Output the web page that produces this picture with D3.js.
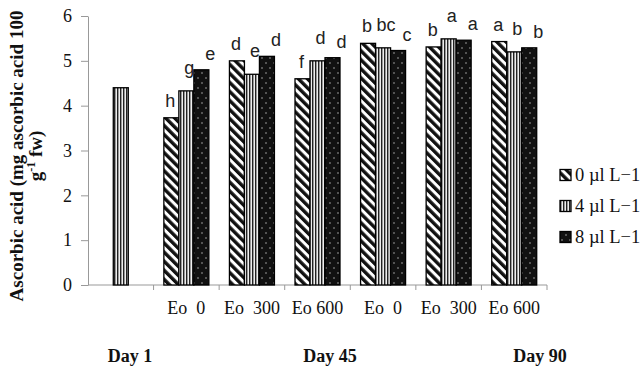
<html>
<head>
<style>
  body { margin: 0; background: #fff; }
  svg text { white-space: pre; }
</style>
</head>
<body>
<svg id="chart" width="644" height="368"></svg>
<script src="https://d3js.org/d3.v7.min.js"></script>
<script>
// categories along the x axis (first one is the Day 1 control)
var categories = ["", "Eo  0", "Eo  300", "Eo 600", "Eo  0", "Eo  300", "Eo 600"];
var series = ["0 \u00b5l L\u22121", "4 \u00b5l L\u22121", "8 \u00b5l L\u22121"];
var values0 = [null, 3.73, 5.00, 4.60, 5.39, 5.31, 5.43];
var values4 = [4.40, 4.33, 4.70, 5.00, 5.29, 5.49, 5.20];
var values8 = [null, 4.80, 5.10, 5.07, 5.23, 5.46, 5.29];
var letters0 = [null, "h", "d", "f", "b", "b", "a"];
var letters4 = [null, "g", "e", "d", "bc", "a", "b"];
var letters8 = [null, "e", "d", "d", "c", "a", "b"];
var yTicks = [0, 1, 2, 3, 4, 5, 6];
var dayLabels = ["Day 1", "Day 45", "Day 90"];

var allValues = [values0, values4, values8];
var allLetters = [letters0, letters4, letters8];

var svg = d3.select("#chart");
var plotLeft = 88, plotRight = 547, plotTop = 16, plotBottom = 285;

var x = d3.scaleBand().domain(d3.range(categories.length)).range([plotLeft, plotRight]).padding(0);
var xs = d3.scaleBand().domain([0, 1, 2]).range([0, x.bandwidth()]).paddingInner(0).paddingOuter(0.686);
var y = d3.scaleLinear().domain([0, 6]).range([plotBottom, plotTop]);

// fill patterns
var defs = svg.append("defs");
var hatch = defs.append("pattern").attr("id", "hatch").attr("patternUnits", "userSpaceOnUse")
  .attr("width", 6.4).attr("height", 6.4).attr("patternTransform", "rotate(-45)");
hatch.append("rect").attr("width", 6.4).attr("height", 6.4).attr("fill", "#fff");
hatch.append("rect").attr("width", 3.4).attr("height", 6.4).attr("fill", "#111");

var vert = defs.append("pattern").attr("id", "vert").attr("patternUnits", "userSpaceOnUse")
  .attr("width", 3).attr("height", 3);
vert.append("rect").attr("width", 3).attr("height", 3).attr("fill", "#eee");
vert.append("rect").attr("width", 1).attr("height", 3).attr("fill", "#222");
vert.append("rect").attr("x", 1).attr("width", 1).attr("height", 3).attr("fill", "#999");

var dots = defs.append("pattern").attr("id", "dots").attr("patternUnits", "userSpaceOnUse")
  .attr("width", 8).attr("height", 10);
dots.append("rect").attr("width", 8).attr("height", 10).attr("fill", "#111");
dots.append("circle").attr("cx", 2).attr("cy", 3).attr("r", 0.8).attr("fill", "#aaa");
dots.append("circle").attr("cx", 6).attr("cy", 8).attr("r", 0.8).attr("fill", "#aaa");

var fills = ["url(#hatch)", "url(#vert)", "url(#dots)"];

// y axis
var yAxis = svg.append("g").attr("transform", "translate(" + plotLeft + ",0)")
  .call(d3.axisLeft(y).tickValues(yTicks).tickFormat(d3.format("d")).tickSize(7).tickPadding(9).tickSizeOuter(0));
yAxis.select(".domain").attr("stroke", "#999");
yAxis.selectAll(".tick line").attr("stroke", "#999");
yAxis.selectAll("text").attr("font-family", "Liberation Serif").attr("font-size", 18).attr("fill", "#111");

// x axis line + boundary ticks
svg.append("line").attr("x1", plotLeft).attr("x2", plotRight).attr("y1", plotBottom).attr("y2", plotBottom)
  .attr("stroke", "#999");
svg.selectAll(".xtick").data(d3.range(1, categories.length + 1)).enter().append("line")
  .attr("x1", function(d) { return plotLeft + d * x.step(); })
  .attr("x2", function(d) { return plotLeft + d * x.step(); })
  .attr("y1", plotBottom).attr("y2", plotBottom + 5).attr("stroke", "#999");

svg.selectAll(".xlab").data(categories).enter().append("text")
  .attr("x", function(d, i) { return x(i) + x.bandwidth() / 2; })
  .attr("y", 314)
  .attr("text-anchor", "middle")
  .attr("font-family", "Liberation Serif").attr("font-size", 18).attr("fill", "#111")
  .text(function(d) { return d; });

// bars
var bars = [];
allValues.forEach(function(vals, s) {
  vals.forEach(function(v, i) {
    if (v != null) bars.push({ s: s, i: i, v: v, letter: allLetters[s][i] });
  });
});

svg.selectAll(".bar").data(bars).enter().append("rect")
  .attr("x", function(d) { return x(d.i) + xs(d.s); })
  .attr("y", function(d) { return y(d.v); })
  .attr("width", xs.bandwidth())
  .attr("height", function(d) { return plotBottom - y(d.v); })
  .attr("fill", function(d) { return fills[d.s]; })
  .attr("stroke", "#000").attr("stroke-width", 1.3);

// significance letters
var ldx = [-1, 3, 9], ldy = [17, 23, 16];
svg.selectAll(".letter").data(bars.filter(function(d) { return d.letter; })).enter().append("text")
  .attr("x", function(d) { return x(d.i) + xs(d.s) + xs.bandwidth() / 2 + ldx[d.s]; })
  .attr("y", function(d) { return y(d.v) - ldy[d.s]; })
  .attr("text-anchor", "middle").attr("dominant-baseline", "central")
  .attr("font-family", "Liberation Sans").attr("font-size", 18).attr("fill", "#222")
  .text(function(d) { return d.letter; });

// y title
var title = svg.append("text")
  .attr("transform", "translate(23,156) rotate(-90)")
  .attr("text-anchor", "middle")
  .attr("font-family", "Liberation Serif").attr("font-weight", "bold").attr("font-size", 19).attr("fill", "#111");
title.append("tspan").attr("x", 0).attr("y", 0).text("Ascorbic acid (mg ascorbic acid 100");
var t2 = title.append("tspan").attr("x", 0).attr("y", 19);
t2.append("tspan").text("g");
t2.append("tspan").attr("dy", -7).attr("font-size", 12).text("-1");
t2.append("tspan").attr("dy", 7).text(" fw)");

// day labels
var dayX = [130, 330, 540];
svg.selectAll(".day").data(dayLabels).enter().append("text")
  .attr("x", function(d, i) { return dayX[i]; })
  .attr("y", 362)
  .attr("text-anchor", "middle")
  .attr("font-family", "Liberation Serif").attr("font-weight", "bold").attr("font-size", 18).attr("fill", "#111")
  .text(function(d) { return d; });

// legend
var legend = svg.selectAll(".leg").data(series).enter().append("g")
  .attr("transform", function(d, i) { return "translate(560," + (175 + i * 31) + ")"; });
legend.append("rect").attr("x", 0).attr("y", -5.5).attr("width", 11).attr("height", 11)
  .attr("fill", function(d, i) { return fills[i]; }).attr("stroke", "#000").attr("stroke-width", 1.3);
legend.append("text").attr("x", 15).attr("y", 0).attr("dominant-baseline", "central")
  .attr("font-family", "Liberation Serif").attr("font-size", 18.5).attr("fill", "#111")
  .text(function(d) { return d; });
</script>
</body>
</html>
